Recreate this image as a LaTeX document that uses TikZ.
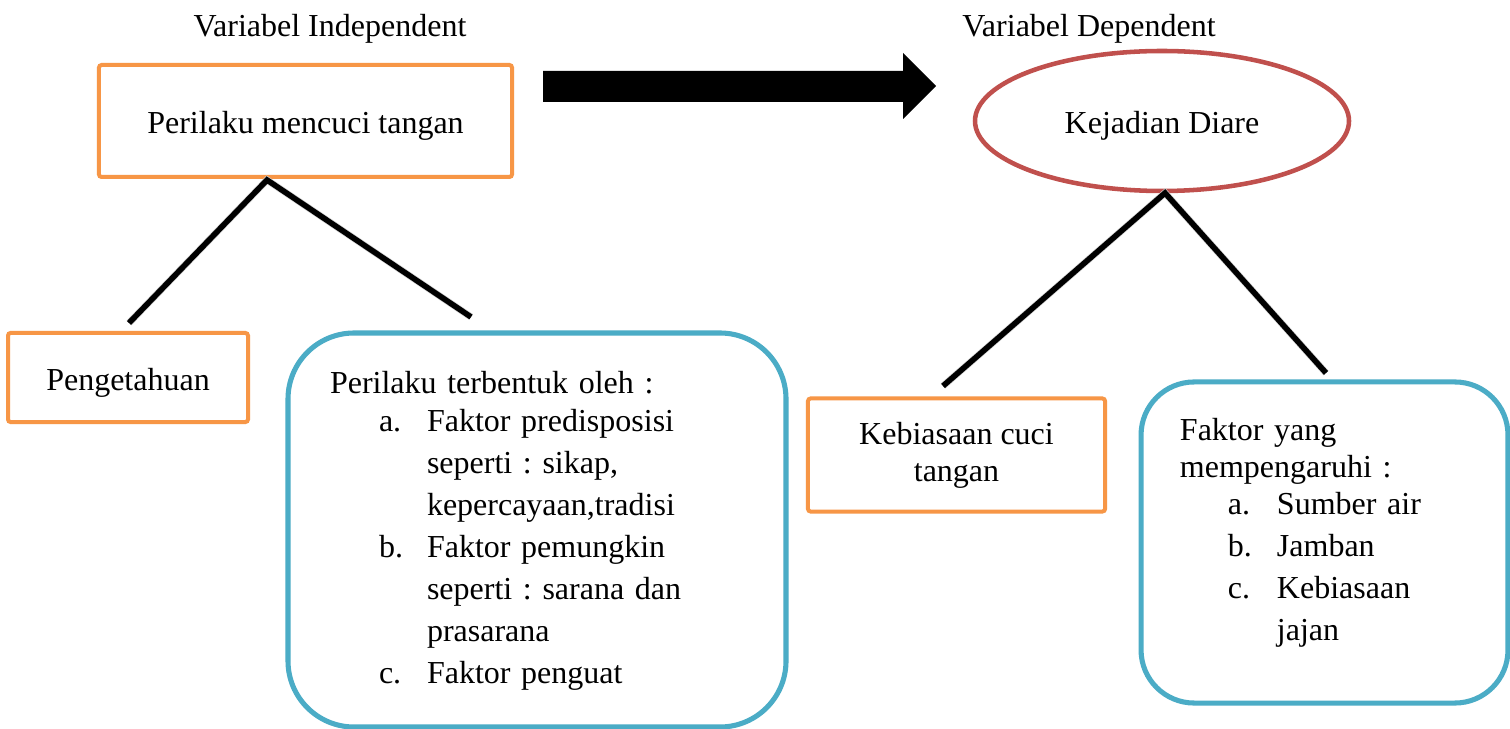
\documentclass[tikz,border=0pt]{standalone}
\usepackage{fontspec}
\setmainfont{Liberation Serif}
\usepackage{array}
\usetikzlibrary{shapes.geometric}
\definecolor{boxorange}{HTML}{F79646}
\definecolor{boxblue}{HTML}{4BACC6}
\definecolor{ellred}{HTML}{C0504D}
\frenchspacing
\begin{document}
\begin{tikzpicture}[x=0.375pt,y=-0.375pt,
  every node/.style={font=\fontsize{12}{13.9}\selectfont\frenchspacing, inner sep=0pt},
  obox/.style={draw=boxorange, line width=1.5pt, rounded corners=1pt},
  bbox/.style={draw=boxblue, line width=1.9pt},
  onetext/.style={text height=9.5pt, text depth=0pt},
  branch/.style={line width=2.1pt, black},
  branchshadow/.style={line width=2.6pt, black!18, shift={(1.5,1.5)}},
  title/.style={anchor=base}]
\useasboundingbox (0,0) rectangle (1510,729);
\fill[white] (0,0) rectangle (1510,729);

% titles
\node[title] (tind) at (330,37) {Variabel Independent};
\node[title] (tdep) at (1089,37) {Variabel Dependent};

% independent side
\node[obox, minimum width=154.9pt, minimum height=42pt, onetext] (beh) at (305.5,121) {Perilaku mencuci tangan};
\node[obox, minimum width=90pt, minimum height=33.4pt, onetext] (know) at (128,377.5) {Pengetahuan};
\node[bbox, rounded corners=24.75pt, minimum width=186.75pt, minimum height=147.75pt,
      text width=155.25pt, inner xsep=15.75pt, align=left] (form) at (537,530)
{\fontsize{12}{15.75}\selectfont\frenchspacing
\begin{tabular}[t]{@{}p{18.375pt}@{}p{18pt}@{}l@{}}
\multicolumn{3}{@{}l@{}}{Perilaku terbentuk oleh :}\\[-1.5pt]
& a. & Faktor predisposisi\\
& & seperti : sikap,\\
& & kepercayaan,tradisi\\
& b. & Faktor pemungkin\\
& & seperti : sarana dan\\
& & prasarana\\
& c. & Faktor penguat
\end{tabular}};

% dependent side
\node[ellipse, draw=ellred, line width=1.7pt, minimum width=140.25pt, minimum height=52.5pt, onetext] (diar) at (1162,121) {Kejadian Diare};
\node[obox, minimum width=111.4pt, minimum height=42.4pt, align=center] (habit) at (956.5,455) {Kebiasaan cuci\\tangan};
\node[bbox, rounded corners=19.9pt, minimum width=137.6pt, minimum height=120.4pt,
      text width=108.4pt, inner xsep=14.6pt, align=left] (infl) at (1324.5,542.5)
{\fontsize{12}{15.75}\selectfont\frenchspacing
\begin{tabular}[t]{@{}p{18pt}@{}p{18.375pt}@{}l@{}}
\multicolumn{3}{@{}l@{}}{Faktor yang}\\[-1.85pt]
\multicolumn{3}{@{}l@{}}{mempengaruhi :}\\[-1.85pt]
& a. & Sumber air\\
& b. & Jamban\\
& c. & Kebiasaan\\
& & jajan\\[7.5pt]
\end{tabular}};

% big arrow between the variables
\fill[black] (543,71) -- (903,71) -- (903,53) -- (936,86) -- (903,119) -- (903,102) -- (543,102) -- cycle;

% branch points
\coordinate (ja) at (267,180);
\coordinate (jl) at (129,323);
\coordinate (jr) at (471,317);
\coordinate (ka) at (1165,193);
\coordinate (kl) at (943,386);
\coordinate (kr) at (1326,373);

\draw[branchshadow] (jl) -- (ja) -- (jr);
\draw[branchshadow] (kl) -- (ka) -- (kr);
\draw[branch] (jl) -- (ja) -- (jr);
\draw[branch] (kl) -- (ka) -- (kr);
\end{tikzpicture}
\end{document}
